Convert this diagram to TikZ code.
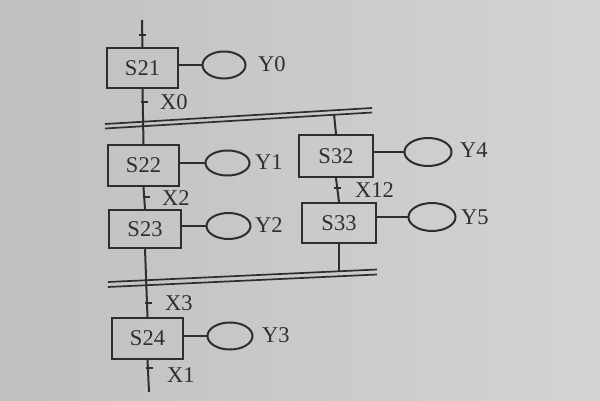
\documentclass[tikz,border=0pt]{standalone}
\usepackage{fontspec}
\setmainfont{Liberation Serif}
\usetikzlibrary{shapes.geometric}
\definecolor{ink}{HTML}{2E2E2E}
\definecolor{bgl}{HTML}{C0C0C0}
\definecolor{bgr}{HTML}{D5D3D2}
\tikzset{
  stepbox/.style={draw=ink, line width=2pt, rectangle, inner sep=0pt, font=\fontsize{22.5}{22.5}\selectfont, text=ink},
  act/.style={draw=ink, line width=2pt, ellipse, inner sep=0pt},
  lbl/.style={anchor=west, inner sep=0pt, font=\fontsize{22.5}{22.5}\selectfont, text=ink},
  wire/.style={draw=ink, line width=2pt},
  trans/.style={draw=ink, line width=1.6pt},
  barline/.style={draw=ink, line width=1.7pt},
}
\begin{document}
\begin{tikzpicture}[x=1pt,y=-1pt]
\useasboundingbox (0,0) rectangle (600,401);
\shade[left color=bgl, right color=bgr] (0,0) rectangle (600,401);

% steps
\node[stepbox, minimum width=71pt, minimum height=40pt] (S21) at (142.5,68) {S21};
\node[stepbox, minimum width=71pt, minimum height=41pt] (S22) at (143.5,165.5) {S22};
\node[stepbox, minimum width=72pt, minimum height=38pt] (S23) at (145,229) {S23};
\node[stepbox, minimum width=74pt, minimum height=42pt] (S32) at (336,156) {S32};
\node[stepbox, minimum width=74pt, minimum height=40pt] (S33) at (339,223) {S33};
\node[stepbox, minimum width=71pt, minimum height=41pt] (S24) at (147.5,338.5) {S24};

% actions
\node[act, minimum width=43pt, minimum height=27pt] (E0) at (224,65) {};
\node[act, minimum width=44pt, minimum height=25pt] (E1) at (227.5,163) {};
\node[act, minimum width=44pt, minimum height=26pt] (E2) at (228.5,226) {};
\node[act, minimum width=47pt, minimum height=28pt] (E4) at (428,152) {};
\node[act, minimum width=47pt, minimum height=28pt] (E5) at (432,217) {};
\node[act, minimum width=45pt, minimum height=27pt] (E3) at (230,336) {};

\node[lbl] (Y0) at (258,64) {Y0};
\node[lbl] (Y1) at (255,162) {Y1};
\node[lbl] (Y2) at (255,225) {Y2};
\node[lbl] (Y4) at (460,150) {Y4};
\node[lbl] (Y5) at (461,217) {Y5};
\node[lbl] (Y3) at (262,335) {Y3};

\draw[wire] (E0.west -| S21.east) -- (E0.west);
\draw[wire] (E1.west -| S22.east) -- (E1.west);
\draw[wire] (E2.west -| S23.east) -- (E2.west);
\draw[wire] (E4.west -| S32.east) -- (E4.west);
\draw[wire] (E5.west -| S33.east) -- (E5.west);
\draw[wire] (E3.west -| S24.east) -- (E3.west);

% transition labels
\node[lbl] (X0) at (160,102) {X0};
\node[lbl] (X2) at (162,198) {X2};
\node[lbl] (X12) at (355,190) {X12};
\node[lbl] (X3) at (165,303) {X3};
\node[lbl] (X1) at (167,375) {X1};

% bars
\coordinate (TBa1) at (105,124); \coordinate (TBb1) at (372,108);
\coordinate (TBa2) at (105,128.5); \coordinate (TBb2) at (372,112.5);
\coordinate (BBa1) at (108,282); \coordinate (BBb1) at (377,269.5);
\coordinate (BBa2) at (108,287); \coordinate (BBb2) at (377,274.5);
\draw[barline] (TBa1) -- (TBb1);
\draw[barline] (TBa2) -- (TBb2);
\draw[barline] (BBa1) -- (BBb1);
\draw[barline] (BBa2) -- (BBb2);

% vertical links
\coordinate (top) at (142,20);
\coordinate (bot) at (149,392);
\coordinate (jT) at (334,114);
\coordinate (jB) at (339,271);
\draw[wire] (top) -- (S21.north);
\draw[wire] (S21.south) -- (S22.north);
\draw[wire] (S22.south) -- (S23.north);
\draw[wire] (S23.south) -- (S24.north);
\draw[wire] (S24.south) -- (bot);
\draw[wire] (jT) -- (S32.north);
\draw[wire] (S32.south) -- (S33.north);
\draw[wire] (S33.south) -- (jB);

% transition ticks
\coordinate (t0) at (142.3,35);
\coordinate (t1) at (144,102);
\coordinate (t2) at (146,197);
\coordinate (t3) at (337,188);
\coordinate (t4) at (148,303);
\coordinate (t5) at (149,368);
\foreach \n in {t0,t1,t2,t3,t4,t5}{
  \draw[trans] ([xshift=-3.5pt]\n) -- ([xshift=3.5pt]\n);
}
\end{tikzpicture}
\end{document}
